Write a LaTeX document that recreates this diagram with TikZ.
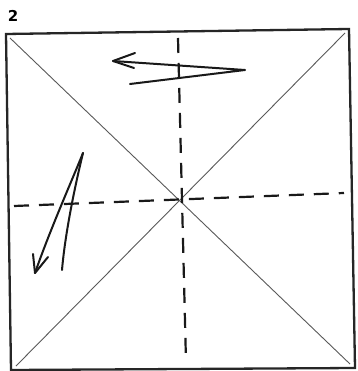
\documentclass[tikz,border=0pt]{standalone}
\usepackage{fontspec}
\setmainfont{DejaVu Sans}
\begin{document}
\begin{tikzpicture}[x=1pt,y=-1pt,
  frame/.style={line width=2.3pt,draw=black!85},
  crease/.style={line width=0.9pt,draw=black!65},
  fold/.style={line width=2.2pt,draw=black!90,dash pattern=on 15pt off 10pt},
  hand/.style={line width=2pt,draw=black!90,line cap=round,line join=round}]
\useasboundingbox (0,0) rectangle (357,371);
\fill[white] (0,0) rectangle (357,371);
% corners
\coordinate (tl) at (6,34);
\coordinate (tr) at (349,29);
\coordinate (br) at (355,368);
\coordinate (bl) at (11,370);
\draw[frame] (tl) -- (tr) -- (br) -- (bl) -- cycle;
% diagonals
\coordinate (d1a) at (10,38);
\coordinate (d1b) at (350,364);
\coordinate (d2a) at (345,33);
\coordinate (d2b) at (16,366);
\draw[crease] (d1a) -- (d1b);
\draw[crease] (d2a) -- (d2b);
% dashed folds
\coordinate (va) at (178,38);
\coordinate (vb) at (186,362);
\coordinate (ha) at (14,206);
\coordinate (hb) at (344,193);
\draw[fold] (va) -- (vb);
\draw[fold] (ha) -- (hb);
% top arrow
\coordinate (a1s) at (130,84);
\coordinate (a1m) at (245,70);
\coordinate (a1t) at (113,61);
\coordinate (a1u) at (135,53);
\coordinate (a1d) at (134,68);
\draw[hand] (a1s) -- (a1m) -- (a1t);
\draw[hand] (a1u) -- (a1t) -- (a1d);
% left arrow
\coordinate (a2s) at (62,270);
\coordinate (a2m) at (83,153);
\coordinate (a2t) at (35,273);
\coordinate (a2u) at (33,254);
\coordinate (a2d) at (48,257);
\draw[hand] (a2s) .. controls (65,235) and (74,190) .. (a2m);
\draw[hand] (a2m) .. controls (70,185) and (50,230) .. (a2t);
\draw[hand] (a2u) -- (a2t) -- (a2d);
% label
\node[font=\bfseries\fontsize{15}{15}\selectfont,inner sep=0pt] (lbl) at (13,16) {2};
\end{tikzpicture}
\end{document}
